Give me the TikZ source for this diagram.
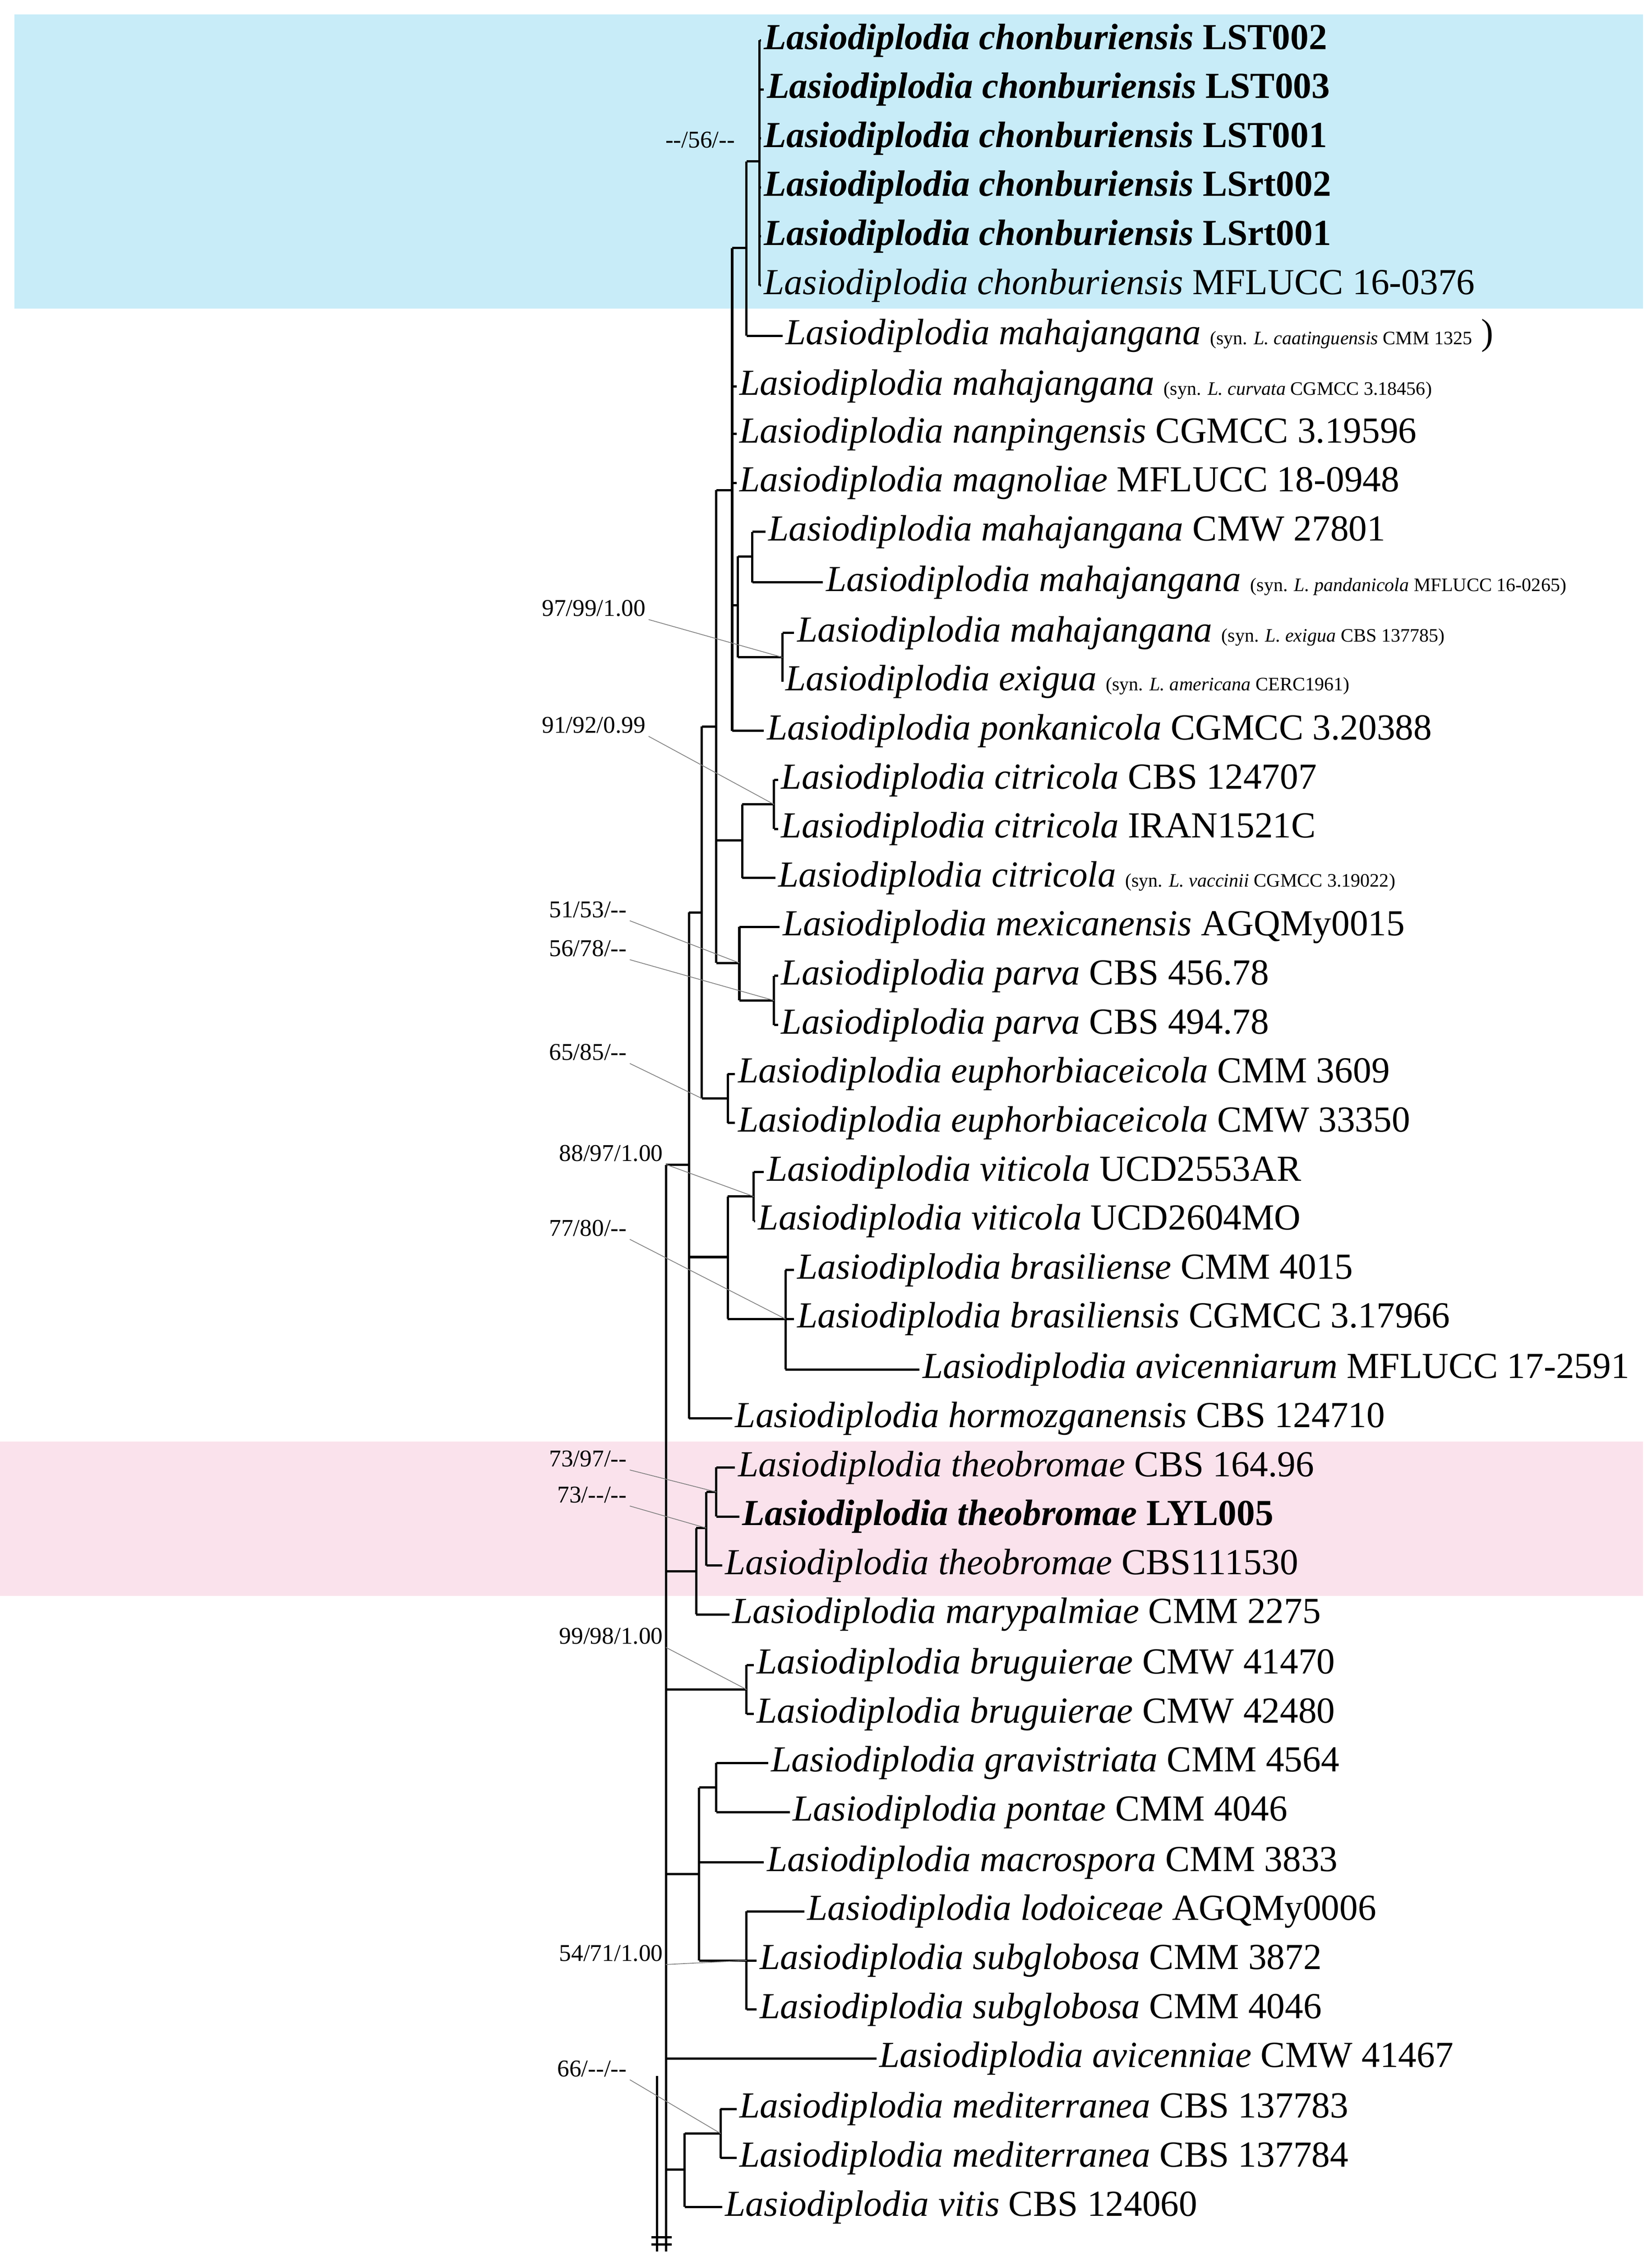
\documentclass[tikz,border=0pt]{standalone}
\usepackage{fontspec}
\setmainfont{Liberation Serif}
\newcommand\smt{\fontsize{7.5}{8}\selectfont}
\definecolor{bluebg}{RGB}{200,236,248}
\definecolor{pinkbg}{RGB}{250,226,236}
\begin{document}
\begin{tikzpicture}[x=0.02cm,y=-0.02cm,
 br/.style={line width=0.9pt},
 lab/.style={anchor=west,inner sep=1pt,font=\fontsize{14.5}{16}\selectfont},
 sup/.style={anchor=east,inner sep=1pt,font=\fontsize{9.5}{11}\selectfont},
 lead/.style={gray,line width=0.3pt}]
\useasboundingbox (0,0) rectangle (1146,1565);
\fill[bluebg] (10,10) rectangle (1140,214);
\fill[pinkbg] (0,1000) rectangle (1140,1107);
\newcommand\Ls{Lasiodiplodia}
\newcommand\tip[5]{\draw[br] (#2,#1) -- (#3,#1); \node[lab] (#4) at (#3,#1) {#5};}
\newcommand\vl[3]{\draw[br] (#1,#2) -- (#1,#3);}
\newcommand\hl[3]{\draw[br] (#1,#3) -- (#2,#3);}
\tip{28}{527}{528}{t1}{\textbf{\textit{\Ls\ chonburiensis} LST002}}
\tip{62}{527}{530}{t2}{\textbf{\textit{\Ls\ chonburiensis} LST003}}
\tip{96}{527}{528}{t3}{\textbf{\textit{\Ls\ chonburiensis} LST001}}
\tip{130}{527}{528}{t4}{\textbf{\textit{\Ls\ chonburiensis} LSrt002}}
\tip{164}{527}{528}{t5}{\textbf{\textit{\Ls\ chonburiensis} LSrt001}}
\tip{198}{527}{528}{t6}{\textit{\Ls\ chonburiensis} MFLUCC 16-0376}
\tip{233}{518}{543}{t7}{\textit{\Ls\ mahajangana} {\smt(syn. \textit{L. caatinguensis} CMM 1325} )}
\tip{268}{508}{511}{t8}{\textit{\Ls\ mahajangana} {\smt(syn. \textit{L. curvata} CGMCC 3.18456)}}
\tip{301}{508}{511}{t9}{\textit{\Ls\ nanpingensis} CGMCC 3.19596}
\tip{335}{508}{511}{t10}{\textit{\Ls\ magnoliae} MFLUCC 18-0948}
\tip{369}{522}{531}{t11}{\textit{\Ls\ mahajangana} CMW 27801}
\tip{404}{522}{571}{t12}{\textit{\Ls\ mahajangana} {\smt(syn. \textit{L. pandanicola} MFLUCC 16-0265)}}
\tip{439}{543}{551}{t13}{\textit{\Ls\ mahajangana} {\smt(syn. \textit{L. exigua} CBS 137785)}}
\tip{473}{543}{543}{t14}{\textit{\Ls\ exigua} {\smt(syn. \textit{L. americana} CERC1961)}}
\tip{507}{508}{530}{t15}{\textit{\Ls\ ponkanicola} CGMCC 3.20388}
\tip{541}{537}{540}{t16}{\textit{\Ls\ citricola} CBS 124707}
\tip{575}{537}{540}{t17}{\textit{\Ls\ citricola} IRAN1521C}
\tip{609}{515}{538}{t18}{\textit{\Ls\ citricola} {\smt(syn. \textit{L. vaccinii} CGMCC 3.19022)}}
\tip{643}{513}{541}{t19}{\textit{\Ls\ mexicanensis} AGQMy0015}
\tip{677}{537}{540}{t20}{\textit{\Ls\ parva} CBS 456.78}
\tip{711}{537}{540}{t21}{\textit{\Ls\ parva} CBS 494.78}
\tip{745}{505}{510}{t22}{\textit{\Ls\ euphorbiaceicola} CMM 3609}
\tip{779}{505}{510}{t23}{\textit{\Ls\ euphorbiaceicola} CMW 33350}
\tip{813}{523}{530}{t24}{\textit{\Ls\ viticola} UCD2553AR}
\tip{847}{523}{524}{t25}{\textit{\Ls\ viticola} UCD2604MO}
\tip{881}{545}{551}{t26}{\textit{\Ls\ brasiliense} CMM 4015}
\tip{915}{545}{551}{t27}{\textit{\Ls\ brasiliensis} CGMCC 3.17966}
\tip{950}{545}{638}{t28}{\textit{\Ls\ avicenniarum} MFLUCC 17-2591}
\tip{984}{478}{508}{t29}{\textit{\Ls\ hormozganensis} CBS 124710}
\tip{1018}{497}{510}{t30}{\textit{\Ls\ theobromae} CBS 164.96}
\tip{1052}{497}{513}{t31}{\textbf{\textit{\Ls\ theobromae} LYL005}}
\tip{1086}{490}{501}{t32}{\textit{\Ls\ theobromae} CBS111530}
\tip{1120}{483}{506}{t33}{\textit{\Ls\ marypalmiae} CMM 2275}
\tip{1155}{518}{523}{t34}{\textit{\Ls\ bruguierae} CMW 41470}
\tip{1189}{518}{523}{t35}{\textit{\Ls\ bruguierae} CMW 42480}
\tip{1223}{497}{533}{t36}{\textit{\Ls\ gravistriata} CMM 4564}
\tip{1257}{497}{548}{t37}{\textit{\Ls\ pontae} CMM 4046}
\tip{1292}{485}{530}{t38}{\textit{\Ls\ macrospora} CMM 3833}
\tip{1326}{518}{558}{t39}{\textit{\Ls\ lodoiceae} AGQMy0006}
\tip{1360}{518}{525}{t40}{\textit{\Ls\ subglobosa} CMM 3872}
\tip{1394}{518}{525}{t41}{\textit{\Ls\ subglobosa} CMM 4046}
\tip{1428}{462}{608}{t42}{\textit{\Ls\ avicenniae} CMW 41467}
\tip{1463}{500}{511}{t43}{\textit{\Ls\ mediterranea} CBS 137783}
\tip{1497}{500}{511}{t44}{\textit{\Ls\ mediterranea} CBS 137784}
\tip{1531}{475}{501}{t45}{\textit{\Ls\ vitis} CBS 124060}
% internal branches
\vl{527}{28}{198} \vl{518}{112}{233} \hl{518}{527}{112}
\vl{508}{172}{507} \hl{508}{518}{172}
\vl{522}{369}{404} \vl{543}{439}{473} \vl{512}{386}{456}
\hl{512}{522}{386} \hl{512}{543}{456} \hl{508}{512}{420}
\vl{537}{541}{575} \vl{515}{558}{609} \hl{515}{537}{558}
\vl{537}{677}{711} \vl{513}{643}{694} \hl{513}{537}{694}
\vl{497}{340}{668} \hl{497}{508}{340} \hl{497}{515}{583} \hl{497}{513}{668}
\vl{505}{745}{779} \vl{487}{504}{762} \hl{487}{497}{504} \hl{487}{505}{762}
\vl{523}{813}{847} \vl{545}{881}{950} \vl{505}{830}{915} \hl{505}{523}{830} \hl{505}{545}{915}
\vl{478}{633}{984} \hl{478}{487}{633} \hl{478}{505}{872}
\vl{462}{808}{1562} \hl{462}{478}{808}
\vl{497}{1018}{1052} \vl{490}{1035}{1086} \vl{483}{1060}{1120}
\hl{490}{497}{1035} \hl{483}{490}{1060} \hl{462}{483}{1090}
\vl{518}{1155}{1189} \hl{462}{518}{1172}
\vl{497}{1223}{1257} \vl{518}{1326}{1394} \vl{485}{1240}{1360}
\hl{485}{497}{1240} \hl{485}{518}{1360} \hl{462}{485}{1300}
\vl{500}{1463}{1497} \vl{475}{1480}{1531} \hl{475}{500}{1480} \hl{462}{475}{1505}
\vl{456}{1440}{1562}
\draw[br] (452,1552) -- (466,1552); \draw[br] (452,1557) -- (466,1557);
% support values
\node[sup] (s1) at (512,97) {-{}-/56/-{}-};
\node[sup] (s2) at (450,422) {97/99/1.00};
\node[sup] (s3) at (450,503) {91/92/0.99};
\node[sup] (s4) at (437,631) {51/53/-{}-};
\node[sup] (s5) at (437,658) {56/78/-{}-};
\node[sup] (s6) at (437,730) {65/85/-{}-};
\node[sup] (s7) at (462,800) {88/97/1.00};
\node[sup] (s8) at (437,852) {77/80/-{}-};
\node[sup] (s9) at (437,1012) {73/97/-{}-};
\node[sup] (s10) at (437,1037) {73/-{}-/-{}-};
\node[sup] (s11) at (462,1135) {99/98/1.00};
\node[sup] (s12) at (462,1355) {54/71/1.00};
\node[sup] (s13) at (437,1435) {66/-{}-/-{}-};
\coordinate (c2) at (543,456); \coordinate (c3) at (537,558);
\coordinate (c4) at (513,668); \coordinate (c5) at (537,694);
\coordinate (c6) at (487,762); \coordinate (c7) at (523,830);
\coordinate (c8) at (545,915); \coordinate (c9) at (497,1035);
\coordinate (c10) at (490,1060); \coordinate (c11) at (518,1172);
\coordinate (c12) at (518,1360); \coordinate (c13) at (500,1480);
\foreach \i in {2,...,13} \draw[lead] (s\i.south east) -- (c\i);
\end{tikzpicture}
\end{document}
